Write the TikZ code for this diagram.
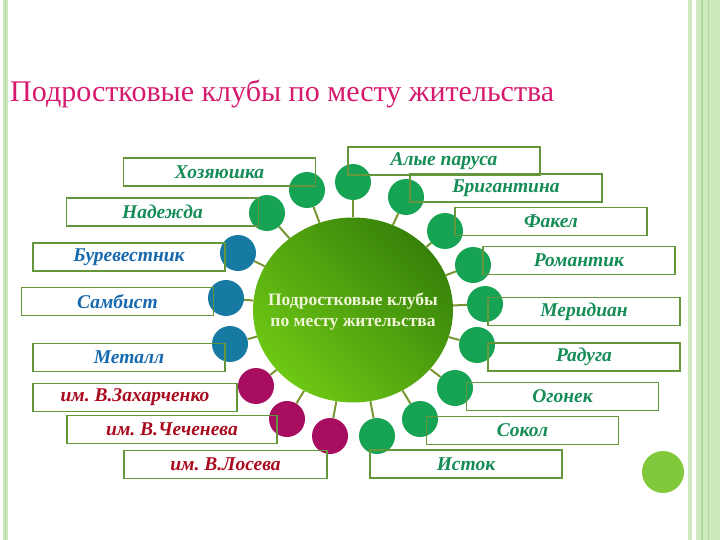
\documentclass[tikz,border=0pt]{standalone}
\usepackage{fontspec}
\setmainfont{Liberation Serif}
\usetikzlibrary{shapes.geometric}
\frenchspacing

\definecolor{dotgreen}{RGB}{22,163,83}
\definecolor{dotblue}{RGB}{22,122,163}
\definecolor{dotred}{RGB}{168,14,96}
\definecolor{boxline}{RGB}{100,150,60}
\definecolor{linkgreen}{RGB}{120,150,50}
\definecolor{textgreen}{RGB}{20,140,85}
\definecolor{textblue}{RGB}{22,105,175}
\definecolor{textred}{RGB}{170,10,30}
\definecolor{titlepink}{RGB}{215,25,110}
\definecolor{clubdark}{RGB}{55,130,10}
\definecolor{clublight}{RGB}{110,200,20}
\definecolor{clubtext}{RGB}{240,245,215}
\definecolor{stripelight}{RGB}{205,233,190}
\definecolor{stripemid}{RGB}{175,218,155}
\definecolor{cornerdot}{RGB}{130,200,60}

\begin{document}
\begin{tikzpicture}[x=1pt, y=-1pt,
            every node/.style={inner sep=0pt},
            link edge/.style={draw=linkgreen, line width=2pt}]
            \tikzset{green node/.style={circle, fill=dotgreen, minimum size=36pt}}
            \tikzset{blue node/.style={circle, fill=dotblue, minimum size=36pt}}
            \tikzset{red node/.style={circle, fill=dotred, minimum size=36pt}}
            \tikzset{name box/.style={rectangle, draw=boxline, line width=1.8pt,
                minimum width=192pt, minimum height=28pt,
                font=\fontsize{19.5}{22}\selectfont\bfseries\itshape}}
            \tikzset{club/.style={ellipse, minimum width=200pt, minimum height=185pt,
                top color=clubdark, bottom color=clublight, shading angle=-45}}
            \useasboundingbox (0,0) rectangle (720,540);
            % page stripes
            \fill[stripelight] (3,0) rectangle (8,540);
            \fill[stripemid] (4.5,0) rectangle (5.5,540);
            \fill[stripelight] (688,0) rectangle (692,540);
            \fill[stripelight] (696,0) rectangle (720,540);
            \fill[stripemid] (701,0) rectangle (703,540);
            \fill[stripemid] (707.5,0) rectangle (709,540);
            \fill[cornerdot] (663,472) circle (21);
            % title
            \node[anchor=west, text=titlepink, font=\fontsize{30}{32}\selectfont] (title) at (10,94)
                {Подростковые клубы по месту жительства};
            % centre
            \node[club] (club) at (353,310) {};
            \node[text=clubtext, align=center, font=\fontsize{17.5}{21}\selectfont\bfseries]
                (clubname) at (353,312) {Подростковые клубы\\по месту жительства};
            % circles
            \node[green node] (c1) at (353,182) {};
            \node[green node] (c2) at (307,190) {};
            \node[green node] (c3) at (267,213) {};
            \node[blue node] (c4) at (238,253) {};
            \node[blue node] (c5) at (226,298) {};
            \node[blue node] (c6) at (230,344) {};
            \node[red node] (c7) at (256,386) {};
            \node[red node] (c8) at (287,419) {};
            \node[red node] (c9) at (330,436) {};
            \node[green node] (c10) at (377,436) {};
            \node[green node] (c11) at (420,419) {};
            \node[green node] (c12) at (455,388) {};
            \node[green node] (c13) at (477,345) {};
            \node[green node] (c14) at (485,304) {};
            \node[green node] (c15) at (473,265) {};
            \node[green node] (c16) at (445,231) {};
            \node[green node] (c17) at (406,197) {};
            % boxes
            \node[name box, text=textgreen] (b1) at (444,161) {Алые паруса};
            \node[name box, text=textgreen] (b2) at (219.5,172) {Хозяюшка};
            \node[name box, text=textgreen] (b3) at (162.5,212) {Надежда};
            \node[name box, text=textblue] (b4) at (129,257) {Буревестник};
            \node[name box, text=textblue] (b5) at (117.5,301.5) {Самбист};
            \node[name box, text=textblue] (b6) at (129,357.5) {Металл};
            \node[name box, text=textred, minimum width=204pt] (b7) at (135,397.5) {им. В.Захарченко};
            \node[name box, text=textred, minimum width=210pt] (b8) at (172,429.5) {им. В.Чеченева};
            \node[name box, text=textred, minimum width=203pt] (b9) at (225.5,464.5) {им. В.Лосева};
            \node[name box, text=textgreen] (b10) at (466,464) {Исток};
            \node[name box, text=textgreen] (b11) at (522.5,430.5) {Сокол};
            \node[name box, text=textgreen] (b12) at (562.5,396.5) {Огонек};
            \node[name box, text=textgreen] (b13) at (584,357) {Радуга};
            \node[name box, text=textgreen] (b14) at (584,311.5) {Меридиан};
            \node[name box, text=textgreen] (b15) at (579,260.5) {Романтик};
            \node[name box, text=textgreen] (b16) at (551,221.5) {Факел};
            \node[name box, text=textgreen] (b17) at (506,188) {Бригантина};
            % links
            \draw[link edge] (club) edge (c1);
            \draw[link edge] (club) edge (c2);
            \draw[link edge] (club) edge (c3);
            \draw[link edge] (club) edge (c4);
            \draw[link edge] (club) edge (c5);
            \draw[link edge] (club) edge (c6);
            \draw[link edge] (club) edge (c7);
            \draw[link edge] (club) edge (c8);
            \draw[link edge] (club) edge (c9);
            \draw[link edge] (club) edge (c10);
            \draw[link edge] (club) edge (c11);
            \draw[link edge] (club) edge (c12);
            \draw[link edge] (club) edge (c13);
            \draw[link edge] (club) edge (c14);
            \draw[link edge] (club) edge (c15);
            \draw[link edge] (club) edge (c16);
            \draw[link edge] (club) edge (c17);
        \end{tikzpicture}
\end{document}
